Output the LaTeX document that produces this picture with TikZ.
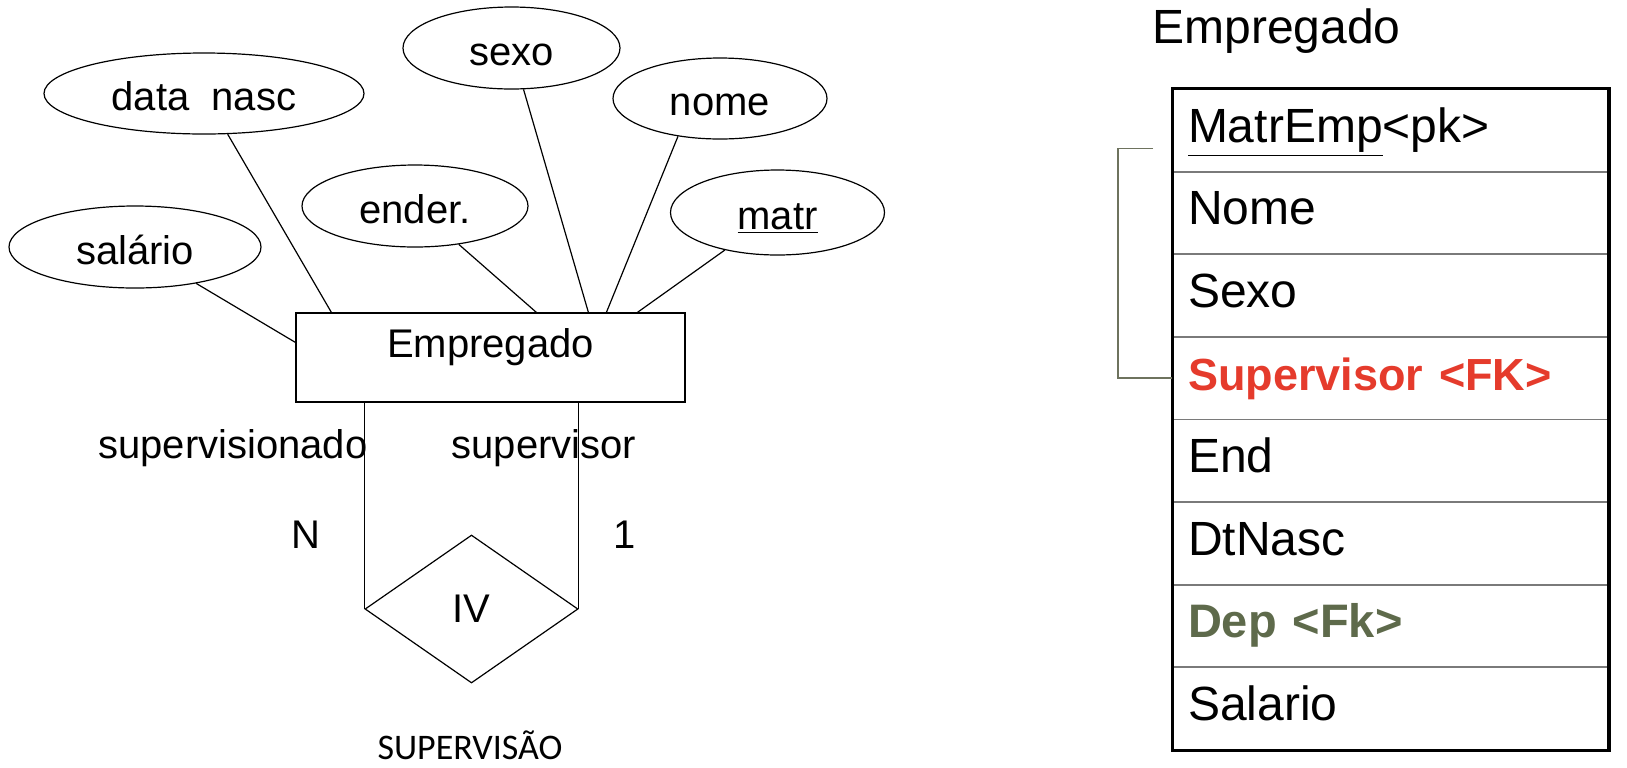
\documentclass[tikz,border=0pt]{standalone}
\usepackage{fontspec}
\setmainfont{Liberation Sans}
\newfontfamily\calibrifont{Carlito}
\usetikzlibrary{shapes.geometric,positioning}
\definecolor{fkRed}{HTML}{E53B2C}
\definecolor{fkOlive}{HTML}{5E6A4B}
\definecolor{lnkOlive}{HTML}{6E735E}
\definecolor{rowGray}{HTML}{7A7A7A}

\begin{document}
\begin{tikzpicture}[x=0.5pt,y=-0.5pt,font=\fontsize{20}{24}\selectfont,
    attr/.style={ellipse,draw,line width=0.6pt,inner sep=0pt,
                 text height=17pt,text depth=0pt},
    entity/.style={draw,line width=0.6pt,minimum width=194.5pt,minimum height=44.5pt,
                   inner sep=0pt,text height=7pt,text depth=7pt},
    rel/.style={diamond,draw,line width=0.6pt,minimum width=106.5pt,
                minimum height=74pt,inner sep=0pt},
    lnk/.style={line width=0.6pt},
    tblrow/.style={draw=rowGray,line width=0.9pt,minimum width=217.5pt,
                   minimum height=41.3pt,inner sep=0pt,text width=202.5pt,align=left,
                   text height=17pt,text depth=5pt,font=\fontsize{24}{28}\selectfont}]
  \useasboundingbox (0,0) rectangle (1627,767);
  % ER side
  \node[entity] (emp) at (490.5,357.5) {Empregado};
  \node[attr,minimum width=160pt,minimum height=40.5pt] (dn)    at (204,93.5)  {data\ \ nasc};
  \node[attr,minimum width=108.5pt,minimum height=41pt] (sexo)  at (511.5,48)  {sexo};
  \node[attr,minimum width=107pt,minimum height=40.5pt] (nome)  at (720,98.5)  {nome};
  \node[attr,minimum width=113pt,minimum height=41pt]   (ender) at (415,206)   {ender.};
  \node[attr,minimum width=107pt,minimum height=42.5pt] (matr)  at (777.5,212.5) {\underline{matr}};
  \node[attr,minimum width=126pt,minimum height=41pt]   (sal)   at (135,247)   {salário};
  \draw[lnk] (dn) -- ([xshift=18pt]emp.north west);
  \draw[lnk] (ender) -- ([xshift=120.5pt]emp.north west);
  \draw[lnk] (sexo) -- ([xshift=146.5pt]emp.north west);
  \draw[lnk] (nome.222) -- ([xshift=155.5pt]emp.north west);
  \draw[lnk] (matr) -- ([xshift=171pt]emp.north west);
  \draw[lnk] (sal) -- ([yshift=-15pt]emp.north west);
  \node[rel] (sup) at (471.5,609) {IV};
  \draw[lnk] (sup.west |- emp.south) -- (sup.west);
  \draw[lnk] (sup.east |- emp.south) -- (sup.east);
  \node (papel1) at (233,448) {supervisionado};
  \node (papel2) at (544,448) {supervisor};
  \node (cardN) at (306,535) {N};
  \node (card1) at (625,535) {1};
  \node[anchor=base,inner sep=0pt,font=\calibrifont\fontsize{18}{20}\selectfont] (relname) at (470,759) {SUPERVISÃO};
  % table side
  \node[anchor=base west,inner sep=0pt,font=\fontsize{24}{28}\selectfont] (tblname) at (1152,43) {Empregado};
  \node[tblrow] (r1) at (1390.5,130.3) {\underline{MatrEmp}<pk>};
  \node[tblrow] (r2) at (1390.5,212.9) {Nome};
  \node[tblrow] (r3) at (1390.5,295.5) {Sexo};
  \node[tblrow] (r4) at (1390.5,378.1) {\fontsize{22.5}{26}\selectfont\color{fkRed}\bfseries Supervisor <FK>};
  \node[tblrow] (r5) at (1390.5,460.7) {End};
  \node[tblrow] (r6) at (1390.5,543.3) {DtNasc};
  \node[tblrow] (r7) at (1390.5,625.9) {\fontsize{23.5}{27}\selectfont\color{fkOlive}\bfseries Dep <Fk>};
  \node[tblrow] (r8) at (1390.5,708.5) {Salario};
  \draw[line width=1.6pt] (r1.north west) rectangle (r8.south east);
  \draw[lnkOlive,line width=0.8pt] ([xshift=-9.5pt,yshift=-9pt]r1.west) -| ([xshift=-27pt]r4.west) -- (r4.west);
\end{tikzpicture}
\end{document}
